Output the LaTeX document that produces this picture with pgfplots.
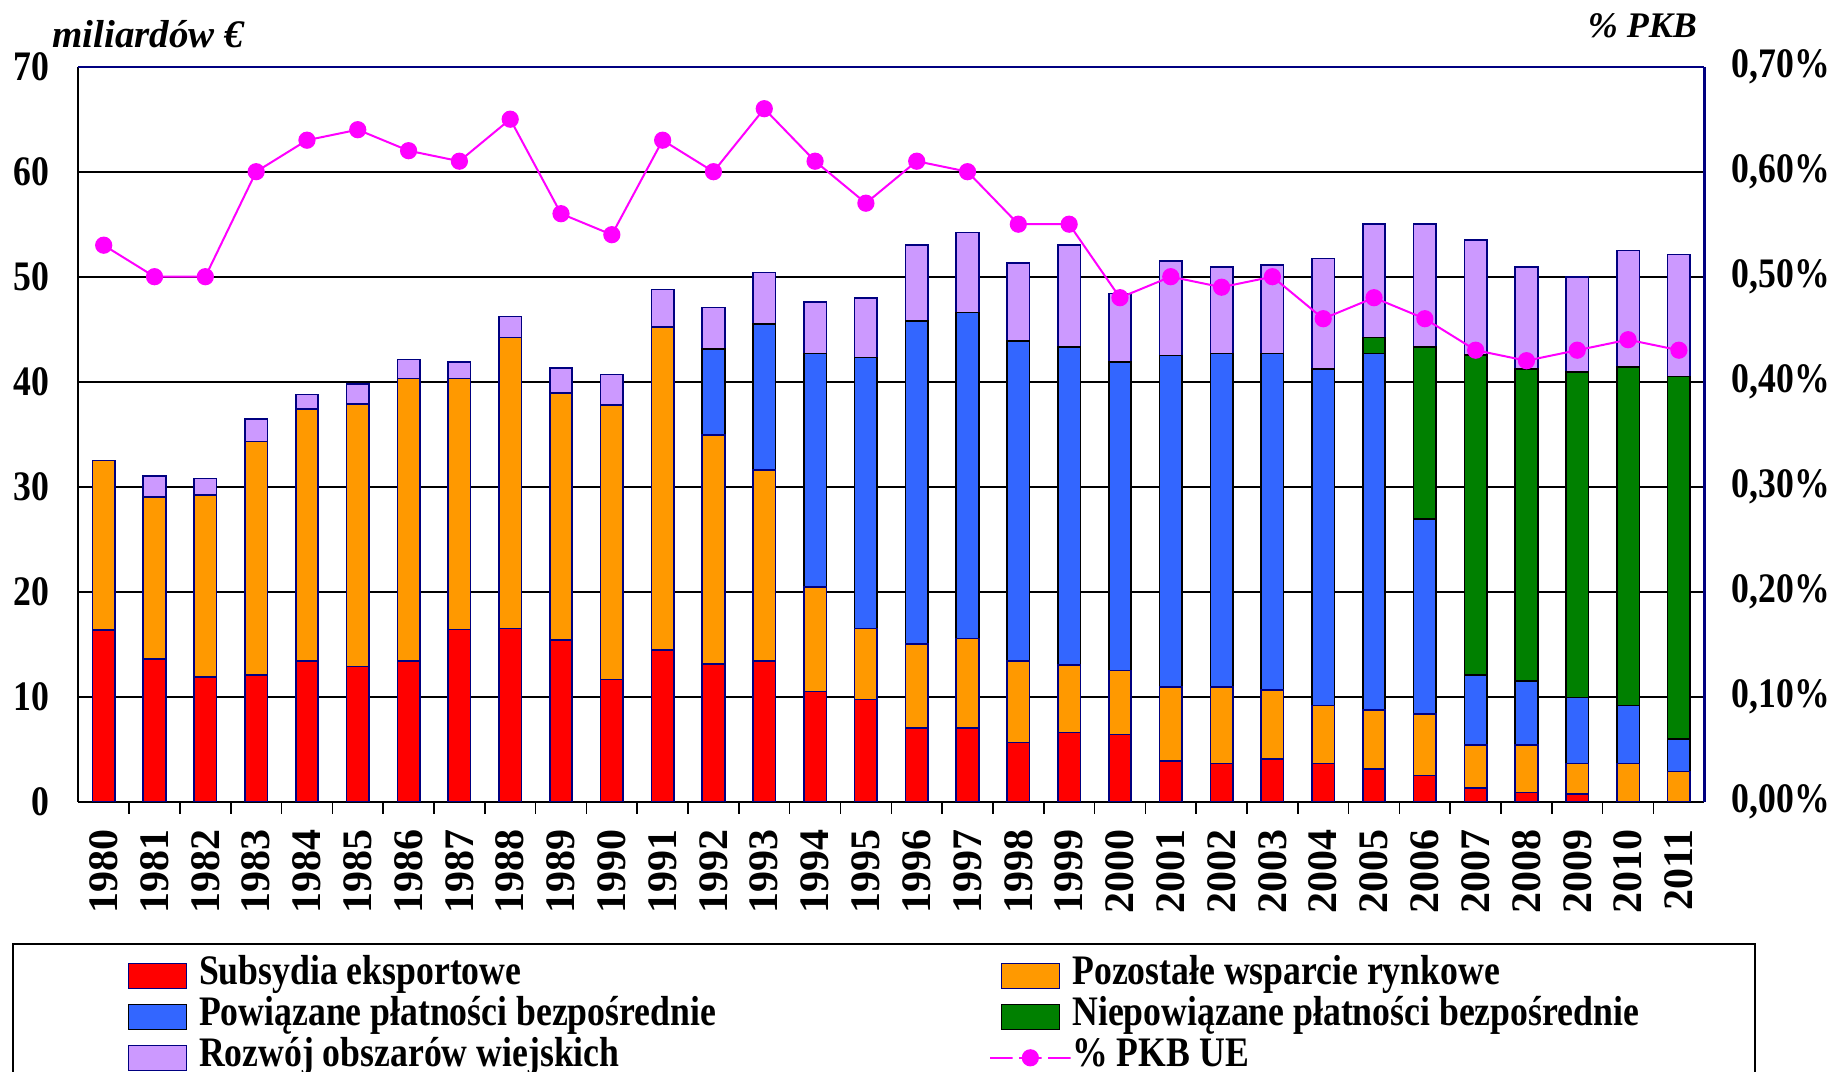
\documentclass[border=0pt]{standalone}
\usepackage{fontspec}
\setmainfont{Liberation Serif}[FakeStretch=0.85]
\newfontfamily\yearfont{Liberation Serif}
\newfontfamily\titlefont{Liberation Serif}
\usepackage{pgfplots}
\usepackage{pgfplotstable}
\pgfplotsset{compat=1.18}
\definecolor{cred}{HTML}{FF0000}
\definecolor{corange}{HTML}{FF9900}
\definecolor{cblue}{HTML}{3366FF}
\definecolor{cgreen}{HTML}{008000}
\definecolor{cpurple}{HTML}{CC99FF}
\definecolor{cnavy}{HTML}{000080}
\definecolor{cmag}{HTML}{FF00FF}
\pgfplotsset{
  boxlegend/.style={legend image code/.code={\draw[##1] (0pt,-6.25pt) rectangle (29pt,6.25pt); \path (35pt,0pt);}},
  linelegend/.style={legend image code/.code={\draw[mark repeat=2,mark phase=2,##1] plot coordinates {(0pt,0pt) (14.5pt,0pt) (29pt,0pt)}; \path (35pt,0pt);}},
}
\pgfplotstableread{
x red orange blue green purple pct
0 16.35 16.15 0 0 0 0.53
1 13.6 15.4 0 0 2.0 0.50
2 11.9 17.3 0 0 1.6 0.50
3 12.07 22.23 0 0 2.15 0.60
4 13.4 24.0 0 0 1.4 0.63
5 12.86 25.04 0 0 1.9 0.64
6 13.4 26.9 0 0 1.8 0.62
7 16.4 23.9 0 0 1.6 0.61
8 16.5 27.7 0 0 2.0 0.65
9 15.4 23.55 0 0 2.35 0.56
10 11.65 26.15 0 0 2.9 0.54
11 14.45 30.75 0 0 3.6 0.63
12 13.1 21.8 8.2 0 3.95 0.60
13 13.4 18.2 13.9 0 4.9 0.66
14 10.5 9.95 22.25 0 4.9 0.61
15 9.75 6.75 25.8 0 5.7 0.57
16 7.0 8.0 30.8 0 7.2 0.61
17 7.0 8.55 31.05 0 7.6 0.60
18 5.65 7.75 30.5 0 7.4 0.55
19 6.6 6.4 30.3 0 9.7 0.55
20 6.4 6.1 29.4 0 6.5 0.48
21 3.9 7.0 31.6 0 9.0 0.50
22 3.65 7.25 31.8 0 8.25 0.49
23 4.07 6.57 32.06 0 8.4 0.50
24 3.65 5.5 32.05 0 10.55 0.46
25 3.1 5.63 33.97 1.5 10.8 0.48
26 2.48 5.87 18.55 16.4 11.7 0.46
27 1.33 4.07 6.67 30.48 10.95 0.43
28 0.89 4.51 6.1 29.7 9.75 0.42
29 0.73 2.92 6.29 31.01 9.05 0.43
30 0 3.65 5.5 32.25 11.1 0.44
31 0 2.86 3.11 34.53 11.6 0.43
}\datatable
\begin{document}
\begin{tikzpicture}
\begin{axis}[
  at={(0,0)}, anchor=south west,
  width=813pt, height=367.5pt, scale only axis,
  xmin=-0.5, xmax=31.5, ymin=0, ymax=70,
  enlargelimits=false,
  ybar stacked, bar width=11.25pt,
  axis lines=left, axis line style={-, black, line width=1.2pt},
  xtick={0,...,31},
  xticklabels={1980,1981,1982,1983,1984,1985,1986,1987,1988,1989,1990,1991,1992,1993,1994,1995,1996,1997,1998,1999,2000,2001,2002,2003,2004,2005,2006,2007,2008,2009,2010,2011},
  minor x tick num=1,
  major tick length=0pt, minor tick length=6pt, tick align=outside,
  minor tick style={black, line width=0.8pt},
  ytick={0,10,20,30,40,50,60,70},
  yticklabels={0,10,20,30,40,50,60,70},
  ymajorgrids, major grid style={black, line width=0.8pt},
  ticklabel style={inner sep=0pt},
  yticklabel style={font=\fontsize{21}{21}\selectfont\bfseries},
  yticklabel shift=14.5pt,
  xticklabel style={font=\yearfont\fontsize{21}{21}\selectfont\bfseries, rotate=90, anchor=east},
  xticklabel shift=13.5pt,
  legend columns=2,
  legend cell align=left,
  boxlegend,
  legend style={at={(-0.04096,-0.19184)}, anchor=north west, draw=black, line width=1pt,
    font=\fontsize{21}{21}\selectfont\bfseries,
    inner xsep=57.4pt, inner ysep=5.8pt,
    nodes={inner sep=0pt, text height=14.5pt, text depth=6pt},
    row sep=0pt, column sep=0pt},
]
\addplot[fill=cred, draw=cnavy, line width=0.8pt] table[x=x,y=red]{\datatable};
\addlegendentry{\makebox[395pt][l]{Subsydia eksportowe}}
\addplot[fill=corange, draw=cnavy, line width=0.8pt] table[x=x,y=orange]{\datatable};
\addlegendentry{\makebox[283.85pt][l]{Pozostałe wsparcie rynkowe}}
\addplot[fill=cblue, draw=black, line width=0.8pt] table[x=x,y=blue]{\datatable};
\addlegendentry{\makebox[395pt][l]{Powiązane płatności bezpośrednie}}
\addplot[fill=cgreen, draw=black, line width=0.8pt] table[x=x,y=green]{\datatable};
\addlegendentry{\makebox[283.85pt][l]{Niepowiązane płatności bezpośrednie}}
\addplot[fill=cpurple, draw=cnavy, line width=0.8pt] table[x=x,y=purple]{\datatable};
\addlegendentry{\makebox[395pt][l]{Rozwój obszarów wiejskich}}
\addlegendimage{cmag, line width=1pt, mark=*, mark size=3.8pt, mark options={fill=cmag, draw=cmag}, linelegend}
\addlegendentry{\makebox[283.85pt][l]{\% PKB UE}}
\end{axis}
\begin{axis}[
  at={(0,0)}, anchor=south west,
  width=813pt, height=367.5pt, scale only axis,
  xmin=-0.5, xmax=31.5, ymin=0, ymax=0.7,
  enlargelimits=false,
  axis x line*=top, axis y line*=right,
  axis line style={-, cnavy, line width=1.2pt},
  xtick=\empty,
  ytick={0,0.1,0.2,0.3,0.4,0.5,0.6,0.7},
  yticklabels={{0,00\%},{0,10\%},{0,20\%},{0,30\%},{0,40\%},{0,50\%},{0,60\%},{0,70\%}},
  major tick length=0pt,
  ticklabel style={inner sep=0pt},
  yticklabel style={font=\fontsize{21}{21}\selectfont\bfseries},
  yticklabel shift=13.5pt,
]
\addplot[cmag, line width=1pt, mark=*, mark size=3.8pt, mark options={fill=cmag, draw=cmag}] table[x=x,y=pct]{\datatable};
\end{axis}
\node[anchor=base west, font=\titlefont\fontsize{19.5}{19.5}\selectfont\bfseries\itshape] at (-16.6pt,376.85pt) {miliardów €};
\node[anchor=base east, font=\titlefont\fontsize{18}{18}\selectfont\bfseries\itshape] at (812.8pt,381.85pt) {\% PKB};
\pgfresetboundingbox
\path[use as bounding box] (-39.15pt,-134.65pt) rectangle (878.85pt,400.85pt);
\end{tikzpicture}
\end{document}
